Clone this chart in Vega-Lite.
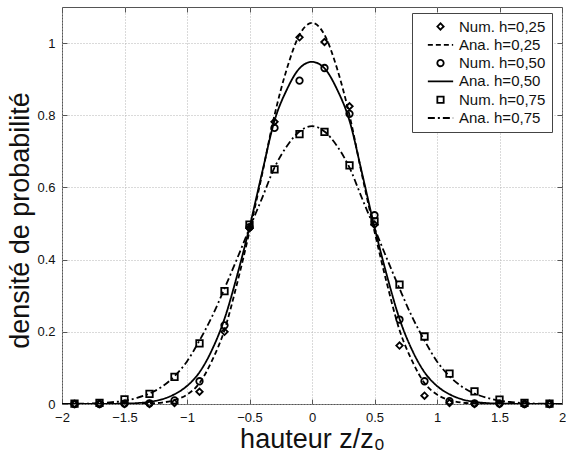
{
  "$schema": "https://vega.github.io/schema/vega-lite/v6.json",
  "autosize": {"type": "none"},
  "padding": {"left": 62, "top": 7, "right": 4, "bottom": 55},
  "width": 500,
  "height": 397,
  "config": {
    "font": "Liberation Sans",
    "view": {"stroke": "#555", "strokeWidth": 1},
    "axis": {
      "domain": false,
      "grid": true,
      "gridColor": "#b5b5b5",
      "gridDash": [1, 2],
      "gridWidth": 1,
      "tickColor": "#555",
      "tickSize": -5,
      "labelFont": "Liberation Sans",
      "labelFontSize": 13,
      "labelColor": "#111",
      "labelFlush": false,
      "labelOverlap": false,
      "titleFont": "Liberation Sans",
      "titleFontWeight": "normal",
      "titleColor": "#111"
    },
    "legend": {
      "orient": "none",
      "legendX": 350,
      "legendY": 6,
      "direction": "vertical",
      "strokeColor": "#444",
      "fillColor": "white",
      "padding": 6,
      "rowPadding": 2.3,
      "labelFont": "Liberation Sans",
      "labelFontSize": 15,
      "labelColor": "#111",
      "symbolSize": 40,
      "symbolStrokeWidth": 1.8,
      "symbolStrokeColor": "black",
      "symbolFillColor": "transparent",
      "symbolOpacity": 1,
      "symbolOffset": 15,
      "labelOffset": 11
    }
  },
  "datasets": {
    "curves": [
      {"series": "Ana. h=0,25", "x": -2.0, "y": 0},
      {"series": "Ana. h=0,25", "x": -1.9, "y": 0},
      {"series": "Ana. h=0,25", "x": -1.8, "y": 0},
      {"series": "Ana. h=0,25", "x": -1.7, "y": 0},
      {"series": "Ana. h=0,25", "x": -1.6, "y": 0},
      {"series": "Ana. h=0,25", "x": -1.5, "y": 0.0002},
      {"series": "Ana. h=0,25", "x": -1.4, "y": 0.0005},
      {"series": "Ana. h=0,25", "x": -1.3, "y": 0.0015},
      {"series": "Ana. h=0,25", "x": -1.2, "y": 0.004},
      {"series": "Ana. h=0,25", "x": -1.1, "y": 0.011},
      {"series": "Ana. h=0,25", "x": -1.0, "y": 0.026},
      {"series": "Ana. h=0,25", "x": -0.9, "y": 0.058},
      {"series": "Ana. h=0,25", "x": -0.8, "y": 0.12},
      {"series": "Ana. h=0,25", "x": -0.7, "y": 0.205},
      {"series": "Ana. h=0,25", "x": -0.6, "y": 0.333},
      {"series": "Ana. h=0,25", "x": -0.5, "y": 0.478},
      {"series": "Ana. h=0,25", "x": -0.4, "y": 0.635},
      {"series": "Ana. h=0,25", "x": -0.3, "y": 0.8},
      {"series": "Ana. h=0,25", "x": -0.2, "y": 0.93},
      {"series": "Ana. h=0,25", "x": -0.1, "y": 1.023},
      {"series": "Ana. h=0,25", "x": 0.0, "y": 1.056},
      {"series": "Ana. h=0,25", "x": 0.1, "y": 1.023},
      {"series": "Ana. h=0,25", "x": 0.2, "y": 0.93},
      {"series": "Ana. h=0,25", "x": 0.3, "y": 0.8},
      {"series": "Ana. h=0,25", "x": 0.4, "y": 0.635},
      {"series": "Ana. h=0,25", "x": 0.5, "y": 0.478},
      {"series": "Ana. h=0,25", "x": 0.6, "y": 0.333},
      {"series": "Ana. h=0,25", "x": 0.7, "y": 0.205},
      {"series": "Ana. h=0,25", "x": 0.8, "y": 0.12},
      {"series": "Ana. h=0,25", "x": 0.9, "y": 0.058},
      {"series": "Ana. h=0,25", "x": 1.0, "y": 0.026},
      {"series": "Ana. h=0,25", "x": 1.1, "y": 0.011},
      {"series": "Ana. h=0,25", "x": 1.2, "y": 0.004},
      {"series": "Ana. h=0,25", "x": 1.3, "y": 0.0015},
      {"series": "Ana. h=0,25", "x": 1.4, "y": 0.0005},
      {"series": "Ana. h=0,25", "x": 1.5, "y": 0.0002},
      {"series": "Ana. h=0,25", "x": 1.6, "y": 0},
      {"series": "Ana. h=0,25", "x": 1.7, "y": 0},
      {"series": "Ana. h=0,25", "x": 1.8, "y": 0},
      {"series": "Ana. h=0,25", "x": 1.9, "y": 0},
      {"series": "Ana. h=0,25", "x": 2.0, "y": 0},

      {"series": "Ana. h=0,50", "x": -2.0, "y": 0},
      {"series": "Ana. h=0,50", "x": -1.9, "y": 0},
      {"series": "Ana. h=0,50", "x": -1.8, "y": 0},
      {"series": "Ana. h=0,50", "x": -1.7, "y": 0.0002},
      {"series": "Ana. h=0,50", "x": -1.6, "y": 0.0005},
      {"series": "Ana. h=0,50", "x": -1.5, "y": 0.001},
      {"series": "Ana. h=0,50", "x": -1.4, "y": 0.0025},
      {"series": "Ana. h=0,50", "x": -1.3, "y": 0.006},
      {"series": "Ana. h=0,50", "x": -1.2, "y": 0.013},
      {"series": "Ana. h=0,50", "x": -1.1, "y": 0.027},
      {"series": "Ana. h=0,50", "x": -1.0, "y": 0.05},
      {"series": "Ana. h=0,50", "x": -0.9, "y": 0.088},
      {"series": "Ana. h=0,50", "x": -0.8, "y": 0.15},
      {"series": "Ana. h=0,50", "x": -0.7, "y": 0.236},
      {"series": "Ana. h=0,50", "x": -0.6, "y": 0.355},
      {"series": "Ana. h=0,50", "x": -0.5, "y": 0.49},
      {"series": "Ana. h=0,50", "x": -0.4, "y": 0.64},
      {"series": "Ana. h=0,50", "x": -0.3, "y": 0.785},
      {"series": "Ana. h=0,50", "x": -0.2, "y": 0.872},
      {"series": "Ana. h=0,50", "x": -0.1, "y": 0.93},
      {"series": "Ana. h=0,50", "x": 0.0, "y": 0.948},
      {"series": "Ana. h=0,50", "x": 0.1, "y": 0.93},
      {"series": "Ana. h=0,50", "x": 0.2, "y": 0.872},
      {"series": "Ana. h=0,50", "x": 0.3, "y": 0.785},
      {"series": "Ana. h=0,50", "x": 0.4, "y": 0.64},
      {"series": "Ana. h=0,50", "x": 0.5, "y": 0.49},
      {"series": "Ana. h=0,50", "x": 0.6, "y": 0.355},
      {"series": "Ana. h=0,50", "x": 0.7, "y": 0.236},
      {"series": "Ana. h=0,50", "x": 0.8, "y": 0.15},
      {"series": "Ana. h=0,50", "x": 0.9, "y": 0.088},
      {"series": "Ana. h=0,50", "x": 1.0, "y": 0.05},
      {"series": "Ana. h=0,50", "x": 1.1, "y": 0.027},
      {"series": "Ana. h=0,50", "x": 1.2, "y": 0.013},
      {"series": "Ana. h=0,50", "x": 1.3, "y": 0.006},
      {"series": "Ana. h=0,50", "x": 1.4, "y": 0.0025},
      {"series": "Ana. h=0,50", "x": 1.5, "y": 0.001},
      {"series": "Ana. h=0,50", "x": 1.6, "y": 0.0005},
      {"series": "Ana. h=0,50", "x": 1.7, "y": 0.0002},
      {"series": "Ana. h=0,50", "x": 1.8, "y": 0},
      {"series": "Ana. h=0,50", "x": 1.9, "y": 0},
      {"series": "Ana. h=0,50", "x": 2.0, "y": 0},

      {"series": "Ana. h=0,75", "x": -2.0, "y": 0},
      {"series": "Ana. h=0,75", "x": -1.9, "y": 0.0005},
      {"series": "Ana. h=0,75", "x": -1.8, "y": 0.001},
      {"series": "Ana. h=0,75", "x": -1.7, "y": 0.0025},
      {"series": "Ana. h=0,75", "x": -1.6, "y": 0.005},
      {"series": "Ana. h=0,75", "x": -1.5, "y": 0.009},
      {"series": "Ana. h=0,75", "x": -1.4, "y": 0.017},
      {"series": "Ana. h=0,75", "x": -1.3, "y": 0.029},
      {"series": "Ana. h=0,75", "x": -1.2, "y": 0.048},
      {"series": "Ana. h=0,75", "x": -1.1, "y": 0.077},
      {"series": "Ana. h=0,75", "x": -1.0, "y": 0.118},
      {"series": "Ana. h=0,75", "x": -0.9, "y": 0.176},
      {"series": "Ana. h=0,75", "x": -0.8, "y": 0.242},
      {"series": "Ana. h=0,75", "x": -0.7, "y": 0.32},
      {"series": "Ana. h=0,75", "x": -0.6, "y": 0.402},
      {"series": "Ana. h=0,75", "x": -0.5, "y": 0.487},
      {"series": "Ana. h=0,75", "x": -0.4, "y": 0.57},
      {"series": "Ana. h=0,75", "x": -0.3, "y": 0.655},
      {"series": "Ana. h=0,75", "x": -0.2, "y": 0.715},
      {"series": "Ana. h=0,75", "x": -0.1, "y": 0.755},
      {"series": "Ana. h=0,75", "x": 0.0, "y": 0.77},
      {"series": "Ana. h=0,75", "x": 0.1, "y": 0.755},
      {"series": "Ana. h=0,75", "x": 0.2, "y": 0.715},
      {"series": "Ana. h=0,75", "x": 0.3, "y": 0.655},
      {"series": "Ana. h=0,75", "x": 0.4, "y": 0.57},
      {"series": "Ana. h=0,75", "x": 0.5, "y": 0.487},
      {"series": "Ana. h=0,75", "x": 0.6, "y": 0.402},
      {"series": "Ana. h=0,75", "x": 0.7, "y": 0.32},
      {"series": "Ana. h=0,75", "x": 0.8, "y": 0.242},
      {"series": "Ana. h=0,75", "x": 0.9, "y": 0.176},
      {"series": "Ana. h=0,75", "x": 1.0, "y": 0.118},
      {"series": "Ana. h=0,75", "x": 1.1, "y": 0.077},
      {"series": "Ana. h=0,75", "x": 1.2, "y": 0.048},
      {"series": "Ana. h=0,75", "x": 1.3, "y": 0.029},
      {"series": "Ana. h=0,75", "x": 1.4, "y": 0.017},
      {"series": "Ana. h=0,75", "x": 1.5, "y": 0.009},
      {"series": "Ana. h=0,75", "x": 1.6, "y": 0.005},
      {"series": "Ana. h=0,75", "x": 1.7, "y": 0.0025},
      {"series": "Ana. h=0,75", "x": 1.8, "y": 0.001},
      {"series": "Ana. h=0,75", "x": 1.9, "y": 0.0005},
      {"series": "Ana. h=0,75", "x": 2.0, "y": 0}
    ],
    "points": [
      {"series": "Num. h=0,25", "x": -1.9, "y": 0},
      {"series": "Num. h=0,25", "x": -1.7, "y": 0},
      {"series": "Num. h=0,25", "x": -1.5, "y": 0},
      {"series": "Num. h=0,25", "x": -1.3, "y": 0},
      {"series": "Num. h=0,25", "x": -1.1, "y": 0.003},
      {"series": "Num. h=0,25", "x": -0.9, "y": 0.034},
      {"series": "Num. h=0,25", "x": -0.7, "y": 0.2},
      {"series": "Num. h=0,25", "x": -0.5, "y": 0.487},
      {"series": "Num. h=0,25", "x": -0.3, "y": 0.782},
      {"series": "Num. h=0,25", "x": -0.1, "y": 1.016},
      {"series": "Num. h=0,25", "x": 0.1, "y": 1.003},
      {"series": "Num. h=0,25", "x": 0.3, "y": 0.825},
      {"series": "Num. h=0,25", "x": 0.5, "y": 0.497},
      {"series": "Num. h=0,25", "x": 0.7, "y": 0.162},
      {"series": "Num. h=0,25", "x": 0.9, "y": 0.023},
      {"series": "Num. h=0,25", "x": 1.1, "y": 0.003},
      {"series": "Num. h=0,25", "x": 1.3, "y": 0},
      {"series": "Num. h=0,25", "x": 1.5, "y": 0},
      {"series": "Num. h=0,25", "x": 1.7, "y": 0},
      {"series": "Num. h=0,25", "x": 1.9, "y": 0},

      {"series": "Num. h=0,50", "x": -1.9, "y": 0},
      {"series": "Num. h=0,50", "x": -1.7, "y": 0},
      {"series": "Num. h=0,50", "x": -1.5, "y": 0.001},
      {"series": "Num. h=0,50", "x": -1.3, "y": 0.002},
      {"series": "Num. h=0,50", "x": -1.1, "y": 0.01},
      {"series": "Num. h=0,50", "x": -0.9, "y": 0.063},
      {"series": "Num. h=0,50", "x": -0.7, "y": 0.218},
      {"series": "Num. h=0,50", "x": -0.5, "y": 0.49},
      {"series": "Num. h=0,50", "x": -0.3, "y": 0.765},
      {"series": "Num. h=0,50", "x": -0.1, "y": 0.896},
      {"series": "Num. h=0,50", "x": 0.1, "y": 0.931},
      {"series": "Num. h=0,50", "x": 0.3, "y": 0.804},
      {"series": "Num. h=0,50", "x": 0.5, "y": 0.523},
      {"series": "Num. h=0,50", "x": 0.7, "y": 0.234},
      {"series": "Num. h=0,50", "x": 0.9, "y": 0.063},
      {"series": "Num. h=0,50", "x": 1.1, "y": 0.008},
      {"series": "Num. h=0,50", "x": 1.3, "y": 0.002},
      {"series": "Num. h=0,50", "x": 1.5, "y": 0.001},
      {"series": "Num. h=0,50", "x": 1.7, "y": 0},
      {"series": "Num. h=0,50", "x": 1.9, "y": 0},

      {"series": "Num. h=0,75", "x": -1.9, "y": 0.001},
      {"series": "Num. h=0,75", "x": -1.7, "y": 0.003},
      {"series": "Num. h=0,75", "x": -1.5, "y": 0.013},
      {"series": "Num. h=0,75", "x": -1.3, "y": 0.028},
      {"series": "Num. h=0,75", "x": -1.1, "y": 0.075},
      {"series": "Num. h=0,75", "x": -0.9, "y": 0.168},
      {"series": "Num. h=0,75", "x": -0.7, "y": 0.313},
      {"series": "Num. h=0,75", "x": -0.5, "y": 0.497},
      {"series": "Num. h=0,75", "x": -0.3, "y": 0.65},
      {"series": "Num. h=0,75", "x": -0.1, "y": 0.748},
      {"series": "Num. h=0,75", "x": 0.1, "y": 0.754},
      {"series": "Num. h=0,75", "x": 0.3, "y": 0.661},
      {"series": "Num. h=0,75", "x": 0.5, "y": 0.506},
      {"series": "Num. h=0,75", "x": 0.7, "y": 0.331},
      {"series": "Num. h=0,75", "x": 0.9, "y": 0.187},
      {"series": "Num. h=0,75", "x": 1.1, "y": 0.084},
      {"series": "Num. h=0,75", "x": 1.3, "y": 0.035},
      {"series": "Num. h=0,75", "x": 1.5, "y": 0.012},
      {"series": "Num. h=0,75", "x": 1.7, "y": 0.003},
      {"series": "Num. h=0,75", "x": 1.9, "y": 0.001}
    ]
  },
  "layer": [
    {
      "data": {"name": "curves"},
      "mark": {"type": "line", "color": "black", "strokeWidth": 1.8, "interpolate": "monotone", "clip": true},
      "encoding": {
        "x": {
          "field": "x", "type": "quantitative",
          "scale": {"domain": [-2, 2], "nice": false, "zero": false},
          "axis": {
            "orient": "bottom",
            "values": [-2, -1.5, -1, -0.5, 0, 0.5, 1, 1.5, 2],
            "format": "~g",
            "labelPadding": 12,
            "title": "hauteur z/z₀",
            "titleFontSize": 27,
            "titleBaseline": "alphabetic",
            "titleY": 43.5
          }
        },
        "y": {
          "field": "y", "type": "quantitative",
          "scale": {"domain": [0, 1.1], "nice": false},
          "axis": {
            "orient": "left",
            "values": [0, 0.2, 0.4, 0.6, 0.8, 1],
            "format": "~g",
            "labelPadding": 12,
            "title": "densité de probabilité",
            "titleFontSize": 27,
            "titleX": -42,
            "titleY": 213,
            "titleBaseline": "middle"
          }
        },
        "strokeDash": {
          "field": "series", "type": "nominal",
          "scale": {
            "domain": ["Num. h=0,25", "Ana. h=0,25", "Num. h=0,50", "Ana. h=0,50", "Num. h=0,75", "Ana. h=0,75"],
            "range": [[1, 0], [5, 3], [1, 0], [1, 0], [1, 0], [7, 3, 2, 3]]
          },
          "legend": {"title": null}
        }
      }
    },
    {
      "data": {"name": "points"},
      "mark": {"type": "point", "filled": false, "color": "black", "opacity": 1, "strokeWidth": 1.8, "size": 42},
      "encoding": {
        "x": {
          "field": "x", "type": "quantitative",
          "axis": {"orient": "top", "values": [-2, -1.5, -1, -0.5, 0, 0.5, 1, 1.5, 2], "labels": false, "grid": false, "title": null}
        },
        "y": {
          "field": "y", "type": "quantitative",
          "axis": {"orient": "right", "values": [0, 0.2, 0.4, 0.6, 0.8, 1], "labels": false, "grid": false, "title": null}
        },
        "shape": {
          "field": "series", "type": "nominal",
          "scale": {
            "domain": ["Num. h=0,25", "Ana. h=0,25", "Num. h=0,50", "Ana. h=0,50", "Num. h=0,75", "Ana. h=0,75"],
            "range": ["diamond", "M-4,0H4", "circle", "M-4,0H4", "square", "M-4,0H4"]
          },
          "legend": {"title": null}
        }
      }
    }
  ],
  "resolve": {"axis": {"x": "independent", "y": "independent"}}
}
